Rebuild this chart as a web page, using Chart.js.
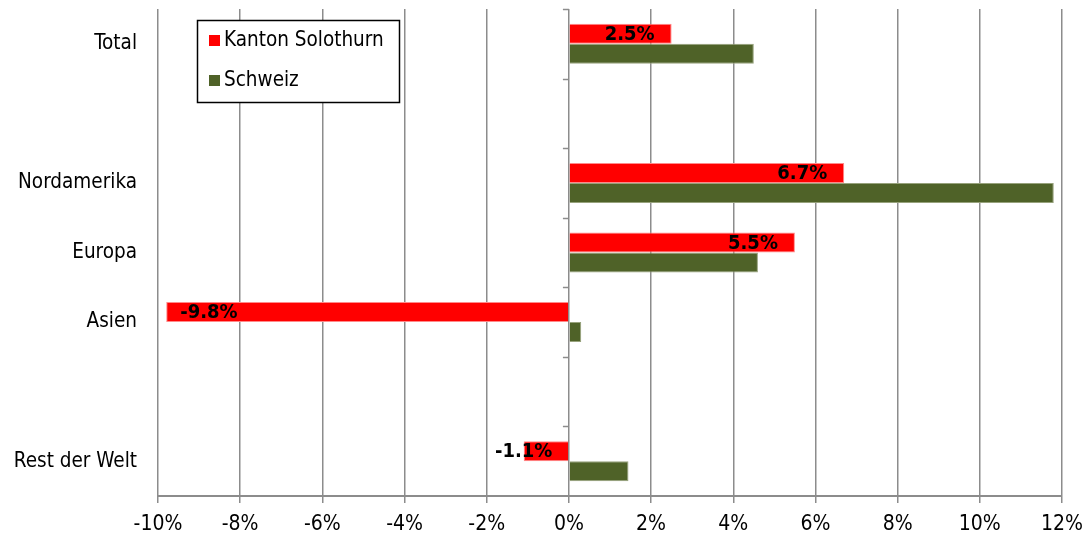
<!DOCTYPE html>
<html>
<head>
<meta charset="utf-8">
<script src="https://cdn.jsdelivr.net/npm/chart.js@4.4.1/dist/chart.umd.min.js"></script>
<style>
  html, body { margin: 0; padding: 0; background: #fff; }
  #wrap { width: 1088px; height: 535px; }
</style>
</head>
<body>
<div id="wrap"><canvas id="chart"></canvas></div>
<script>
// Chart data (values in percent)
const categories = ['Total', '', 'Nordamerika', 'Europa', 'Asien', '', 'Rest der Welt'];
const solothurn = [2.5, null, 6.7, 5.5, -9.8, null, -1.1];
const schweiz = [4.5, null, 11.8, 4.6, 0.3, null, 1.45];
const seriesNames = ['Kanton Solothurn', 'Schweiz'];
const xTicks = [-10, -8, -6, -4, -2, 0, 2, 4, 6, 8, 10, 12];

const FONT = '"DejaVu Sans Condensed", "DejaVu Sans", sans-serif';
const GRID = '#8c8c8c';

// small tick marks on the zero line between categories
const zeroTicks = {
    id: 'zeroTicks',
    afterDraw(chart) {
        const { ctx, scales: { x, y } } = chart;
        const x0 = x.getPixelForValue(0);
        const step = (y.bottom - y.top) / categories.length;
        ctx.save();
        ctx.strokeStyle = GRID;
        ctx.lineWidth = 1.5;
        for (let i = 0; i < categories.length; i++) {
            const py = Math.round(y.top + i * step) + 0.5;
            ctx.beginPath();
            ctx.moveTo(x0 - 6, py);
            ctx.lineTo(x0, py);
            ctx.stroke();
        }
        ctx.restore();
    }
};

// value labels on the red bars, at the inside end
const barLabels = {
    id: 'barLabels',
    afterDatasetsDraw(chart) {
        const { ctx } = chart;
        const meta = chart.getDatasetMeta(0);
        ctx.save();
        ctx.font = 'bold 20px ' + FONT;
        ctx.fillStyle = '#000';
        ctx.textBaseline = 'middle';
        meta.data.forEach((bar, i) => {
            const v = solothurn[i];
            if (v === null) return;
            const txt = v.toFixed(1) + '%';
            const w = ctx.measureText(txt).width;
            const len = Math.abs(bar.x - bar.base);
            const yy = bar.y + 1;
            if (len < w + 20) {
                ctx.textAlign = 'center';
                ctx.fillText(txt, bar.x, yy);
            } else if (v >= 0) {
                ctx.textAlign = 'right';
                ctx.fillText(txt, bar.x - 17, yy);
            } else {
                ctx.textAlign = 'left';
                ctx.fillText(txt, bar.x + 14, yy);
            }
        });
        ctx.restore();
    }
};

// boxed legend inside the plot
const boxLegend = {
    id: 'boxLegend',
    afterDraw(chart) {
        const { ctx } = chart;
        const bx = 197, by = 20, bw = 202, bh = 82;
        ctx.save();
        ctx.fillStyle = '#fff';
        ctx.fillRect(bx, by, bw, bh);
        ctx.strokeStyle = '#000';
        ctx.lineWidth = 1.5;
        ctx.strokeRect(bx + 0.5, by + 0.5, bw, bh);
        ctx.font = '20.5px ' + FONT;
        ctx.textBaseline = 'middle';
        ctx.textAlign = 'left';
        chart.data.datasets.forEach((ds, i) => {
            const cy = by + 21 + i * 40;
            ctx.fillStyle = ds.backgroundColor;
            ctx.fillRect(bx + 12, cy - 6, 11, 11);
            ctx.fillStyle = '#000';
            ctx.fillText(ds.label, bx + 27, cy);
        });
        ctx.restore();
    }
};

new Chart(document.getElementById('chart'), {
    type: 'bar',
    data: {
        labels: categories,
        datasets: [{
            label: seriesNames[0],
            data: solothurn,
            backgroundColor: '#ff0000',
            borderColor: '#ff8a8a',
            borderWidth: 1,
            barPercentage: 1,
            categoryPercentage: 0.575
        }, {
            label: seriesNames[1],
            data: schweiz,
            backgroundColor: '#4f6228',
            borderColor: '#97a27c',
            borderWidth: 1,
            barPercentage: 1,
            categoryPercentage: 0.575
        }]
    },
    options: {
        indexAxis: 'y',
        responsive: true,
        maintainAspectRatio: false,
        animation: false,
        layout: { padding: { top: 9, right: 26, left: 0, bottom: 0 } },
        scales: {
            x: {
                min: -10,
                max: 12,
                afterBuildTicks: (axis) => { axis.ticks = xTicks.map(v => ({ value: v })); },
                afterFit: (axis) => { axis.height = 39; axis.paddingLeft = 0; axis.paddingRight = 0; },
                grid: { color: GRID, lineWidth: 1.5, tickLength: 7 },
                border: { display: true, color: GRID, width: 2 },
                ticks: {
                    color: '#000',
                    font: { family: FONT, size: 21 },
                    padding: 9,
                    maxRotation: 0,
                    callback: (v) => v + '%'
                }
            },
            y: {
                afterFit: (axis) => { axis.width = 158; axis.paddingTop = 0; axis.paddingBottom = 0; },
                grid: { display: false },
                border: { display: false },
                ticks: {
                    color: '#000',
                    font: { family: FONT, size: 20.5 },
                    padding: 13
                }
            }
        },
        plugins: {
            legend: { display: false },
            tooltip: { enabled: false }
        }
    },
    plugins: [zeroTicks, barLabels, boxLegend]
});
</script>
</body>
</html>
